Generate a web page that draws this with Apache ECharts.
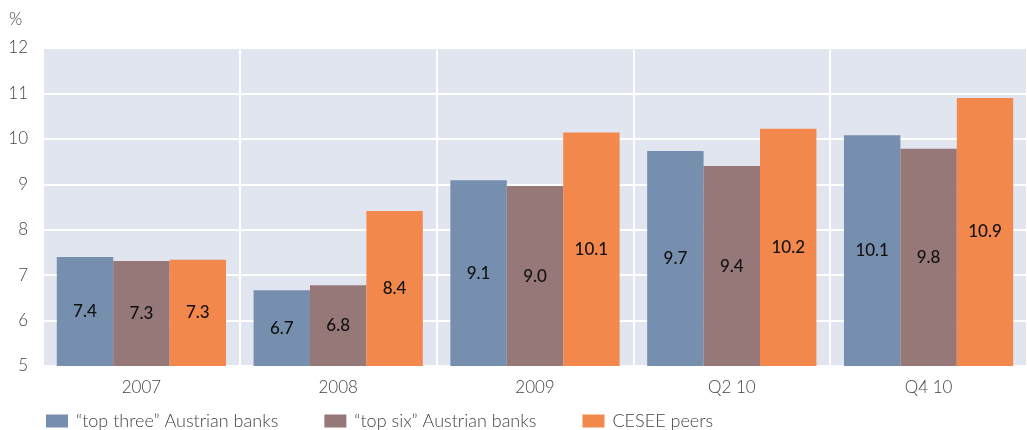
<!DOCTYPE html>
<html>
<head>
<meta charset="utf-8">
<script src="https://cdn.jsdelivr.net/npm/echarts@6/dist/echarts.min.js"></script>
<style>
  html, body { margin: 0; padding: 0; background: #fff; }
  #chart { width: 1027px; height: 430px; }
</style>
</head>
<body>
<div id="chart"></div>
<script>
const categories = ['2007', '2008', '2009', 'Q2 10', 'Q4 10']
const topThree = [7.4, 6.67, 9.09, 9.73, 10.08]
const topSix = [7.31, 6.78, 8.96, 9.4, 9.78]
const ceseePeers = [7.34, 8.41, 10.14, 10.22, 10.9]
const seriesNames = ['\u201ctop three\u201d Austrian banks', '\u201ctop six\u201d Austrian banks', 'CESEE peers']
const colors = ['#768faf', '#967879', '#f3884c']

const chart = echarts.init(document.getElementById('chart'))
const labelStyle = {
  show: true,
  position: 'inside',
  color: '#111',
  fontSize: 17,
  fontFamily: 'Lato',
  fontWeight: 500,
  formatter: p => p.value.toFixed(1)
}
const makeSeries = (name, data, color) => ({
  name: name,
  type: 'bar',
  data: data,
  barGap: 0,
  barCategoryGap: '14%',
  itemStyle: { color: color },
  label: labelStyle
})

chart.setOption({
  color: colors,
  textStyle: { fontFamily: 'Lato' },
  grid: {
    left: 43,
    top: 48,
    width: 987,
    height: 318,
    show: true,
    backgroundColor: '#e1e5f0',
    borderWidth: 0
  },
  legend: {
    left: 41,
    top: 407,
    itemWidth: 22,
    itemHeight: 13,
    itemGap: 46,
    icon: 'rect',
    textStyle: { fontSize: 18, color: '#444', fontFamily: 'Lato', fontWeight: 300, padding: [0, 0, 0, 3] },
    data: seriesNames
  },
  xAxis: {
    type: 'category',
    data: categories,
    axisLine: { show: false },
    axisTick: { show: false },
    axisLabel: { fontSize: 17, color: '#444', margin: 13, fontWeight: 300 },
    splitLine: { show: true, lineStyle: { color: '#ffffff', width: 2 } }
  },
  yAxis: {
    type: 'value',
    min: 5,
    max: 12,
    interval: 1,
    name: '%',
    nameLocation: 'end',
    nameGap: 20,
    nameTextStyle: { fontSize: 17, color: '#444', align: 'left', padding: [0, 0, 0, -34], fontWeight: 300 },
    axisLine: { show: false },
    axisTick: { show: false },
    axisLabel: { fontSize: 17, color: '#444', margin: 15, fontWeight: 300 },
    splitLine: { show: true, lineStyle: { color: '#ffffff', width: 2 } }
  },
  series: [
    makeSeries(seriesNames[0], topThree, colors[0]),
    makeSeries(seriesNames[1], topSix, colors[1]),
    makeSeries(seriesNames[2], ceseePeers, colors[2])
  ]
})
</script>
</body>
</html>
